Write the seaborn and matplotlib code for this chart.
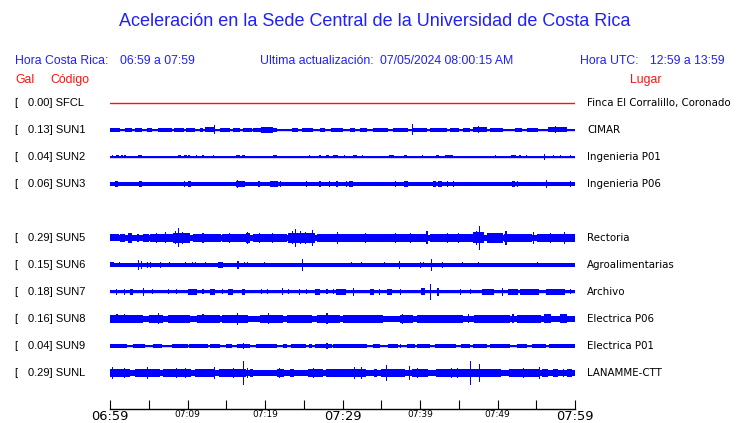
import numpy as np
import pandas as pd
import matplotlib
matplotlib.use("Agg")
import matplotlib.pyplot as plt
import seaborn as sns
from matplotlib.transforms import blended_transform_factory

# ---------------- data ----------------
TITLE = "Aceleración en la Sede Central de la Universidad de Costa Rica"
HORA_CR = "06:59 a 07:59"
ACTUALIZACION = "07/05/2024 08:00:15 AM"
HORA_UTC = "12:59 a 13:59"

CODES = ["SFCL", "SUN1", "SUN2", "SUN3", "SUN5", "SUN6", "SUN7", "SUN8", "SUN9", "SUNL"]
GAL = [0.00, 0.13, 0.04, 0.06, 0.29, 0.15, 0.18, 0.16, 0.04, 0.29]
PLACES = ["Finca El Corralillo, Coronado", "CIMAR", "Ingenieria P01", "Ingenieria P06",
          "Rectoria", "Agroalimentarias", "Archivo", "Electrica P06", "Electrica P01",
          "LANAMME-CTT"]

TIME_TICKS = ["06:59", "07:09", "07:19", "07:29", "07:39", "07:49", "07:59"]
MINUTES_SPAN = 60

# background noise half-amplitude of each trace (relative units)
BASE = [0.0, 0.6, 0.5, 1.8, 2.8, 1.7, 1.5, 3.0, 1.0, 2.5]

# bursts: (start minute, end minute, half-amplitude)
SUN1_BURSTS = [(0.0, 1.3, 2), (1.9, 2.8, 2), (3.2, 4.1, 2), (4.8, 5.4, 2), (6.2, 8.0, 1.8),
               (8.3, 9.5, 2), (9.8, 11.0, 2), (11.6, 12.0, 2), (12.3, 13.5, 2.5), (13.5, 13.5, 4.5),
               (14.2, 15.5, 2), (15.9, 16.8, 2), (17.2, 18.3, 2), (18.5, 19.5, 2), (19.5, 21.0, 3),
               (21.0, 21.5, 2), (23.5, 24.2, 2), (24.8, 26.2, 2), (27.1, 27.8, 2), (28.5, 30.1, 2),
               (31.0, 31.6, 2), (32.2, 33.2, 2), (33.9, 35.9, 2), (36.5, 38.5, 2), (39.0, 39.0, 5.5),
               (39.1, 40.9, 2), (41.3, 43.5, 2), (43.9, 45.0, 2), (45.5, 46.5, 2), (46.8, 48.6, 2.5),
               (47.5, 47.5, 3.5), (49.0, 50.7, 2), (52.3, 53.2, 2), (53.8, 55.2, 2), (56.5, 59.0, 2.5),
               (57.5, 57.5, 3.5)]
SUN2_BURSTS = [(0.2, 0.4, 1.5), (0.8, 1.1, 1.5), (1.4, 1.7, 1.5), (1.8, 2.1, 1.5), (3.6, 4.1, 1.5),
               (8.8, 9.2, 1.5), (9.5, 9.9, 1.5), (10.1, 10.3, 1.5), (11.2, 11.2, 1.5), (12.0, 12.0, 1.5),
               (13.3, 13.3, 1.5), (16.3, 16.8, 1.5), (17.0, 17.4, 1.5), (21.0, 21.6, 1.5), (25.8, 25.8, 1.5),
               (27.1, 27.1, 1.5), (27.9, 28.3, 1.5), (28.8, 29.4, 1.5), (30.3, 30.3, 1.5), (31.4, 31.9, 1.5),
               (32.6, 32.6, 1.5), (36.0, 36.7, 1.5), (37.9, 38.3, 1.5), (40.3, 40.3, 1.5), (42.1, 42.5, 1.5),
               (43.2, 44.2, 1.5), (49.7, 49.7, 1.5), (51.8, 52.4, 1.5), (52.9, 52.9, 1.5), (53.8, 53.8, 1.5),
               (56.1, 56.1, 3), (57.2, 57.2, 1.5), (58.1, 58.1, 1.5), (59.4, 59.4, 1.5)]
SUN3_BURSTS = [(0.6, 1.0, 2.7), (3.7, 4.1, 2.7), (9.5, 9.7, 2.7), (10.0, 10.5, 2.7), (16.3, 17.4, 2.7),
               (16.4, 16.4, 4), (19.1, 19.4, 2.7), (20.7, 21.7, 2.7), (21.9, 22.0, 2.7), (25.4, 25.4, 2.7),
               (27.1, 27.1, 2.7), (28.2, 28.4, 2.7), (29.1, 29.4, 2.7), (30.5, 30.5, 2.7), (30.9, 31.3, 2.7),
               (36.8, 36.8, 2.7), (37.9, 38.4, 2.7), (41.7, 42.1, 2.7), (42.3, 42.9, 2.7), (43.5, 43.5, 2.7),
               (44.3, 44.3, 2.7), (51.9, 52.3, 2.7), (52.6, 52.6, 2.7), (56.3, 56.3, 4), (59.4, 59.4, 2.7)]
SUN5_BURSTS = [(0.0, 1.2, 3.5), (1.3, 1.9, 4.2), (2.3, 2.8, 5), (3.5, 3.8, 4.2), (4.2, 5.0, 3.8),
               (5.2, 8.1, 4.3), (6.0, 6.0, 5), (7.2, 7.2, 5.5), (8.1, 10.3, 4.6), (8.8, 8.8, 9.5),
               (8.5, 8.5, 6.5), (9.3, 9.3, 6), (10.7, 13.3, 4.0), (12.0, 12.0, 5), (13.3, 14.3, 3.6),
               (14.5, 17.5, 4.3), (15.4, 15.4, 5.2), (17.5, 18.0, 5.2), (17.7, 17.7, 6), (18.5, 22.8, 4.0),
               (19.3, 19.3, 5), (21.0, 21.0, 5), (23.0, 26.5, 4.8), (23.9, 23.9, 9), (23.6, 23.6, 6.5),
               (24.6, 24.6, 6.5), (25.2, 25.2, 6), (26.1, 26.1, 8), (26.7, 29.7, 4.3), (29.3, 29.3, 6),
               (29.7, 31.0, 4.3), (31.0, 35.2, 4.0), (33.0, 33.0, 5), (35.2, 40.8, 4.3), (36.8, 36.8, 5.2),
               (38.8, 38.8, 5.2), (40.9, 40.9, 6.5), (41.3, 46.8, 4.3), (43.5, 43.5, 5.2), (45.0, 45.0, 5.2),
               (46.8, 48.2, 5.5), (47.7, 47.7, 12), (47.3, 47.3, 7), (48.6, 50.7, 4.6), (51.1, 51.1, 7),
               (50.8, 54.5, 4.3), (54.6, 54.6, 6), (55.1, 60.0, 4.3), (56.8, 56.8, 5.2), (58.7, 58.7, 6)]
SUN6_BURSTS = [(0.0, 0.5, 2.5), (1.2, 1.2, 2.5), (3.7, 3.7, 5), (4.1, 4.1, 4), (4.8, 4.8, 3),
               (5.2, 5.2, 3), (6.5, 6.5, 3), (7.7, 7.7, 2.5), (9.7, 9.7, 2.5), (10.6, 10.6, 2.5),
               (11.0, 11.0, 2.5), (12.3, 12.3, 2.5), (13.9, 14.6, 3), (16.4, 16.7, 4), (17.3, 17.3, 2.5),
               (17.8, 17.8, 2.5), (19.9, 19.9, 2.5), (24.8, 24.8, 6), (31.2, 31.2, 2.5), (32.4, 32.4, 2.5),
               (35.4, 35.4, 2.5), (37.4, 37.4, 4), (40.1, 40.1, 3), (40.5, 40.5, 2.5), (41.5, 41.5, 6),
               (42.9, 42.9, 3), (45.5, 45.5, 2.5), (47.6, 47.6, 2.5), (51.7, 51.7, 2.2), (55.2, 55.2, 2.5)]
SUN7_BURSTS = [(0.8, 0.8, 2.7), (1.9, 1.9, 2.7), (2.6, 3.0, 2.7), (4.3, 4.3, 4), (5.5, 5.5, 2.5),
               (7.5, 7.5, 2.5), (8.6, 8.6, 2.5), (10.0, 11.2, 3), (12.0, 12.0, 2.5), (12.9, 13.5, 3),
               (14.5, 14.5, 2.5), (15.2, 15.9, 3), (17.0, 17.4, 3), (19.6, 19.6, 2.5), (20.3, 20.3, 2.5),
               (22.2, 22.2, 3.5), (23.0, 23.0, 2.5), (24.5, 24.5, 3), (25.4, 25.4, 2.5), (26.5, 27.1, 3),
               (28.0, 28.0, 2.5), (28.8, 28.8, 2.5), (29.2, 30.5, 3), (31.4, 31.4, 4), (33.5, 34.0, 3),
               (34.8, 34.8, 3), (35.8, 36.4, 3), (37.5, 37.5, 3), (40.1, 40.7, 3.5), (41.4, 41.4, 8),
               (42.2, 42.4, 4), (45.2, 45.2, 3), (46.5, 46.5, 2.5), (48.0, 49.6, 3), (50.7, 50.7, 4),
               (51.4, 52.6, 3), (52.9, 55.4, 3), (56.3, 58.7, 3), (59.4, 59.4, 2.5)]
SUN8_BURSTS = [(0.0, 4.3, 3.8), (0.9, 0.9, 4.5), (1.9, 1.9, 4.5), (5.0, 6.8, 4), (6.2, 6.2, 5.5),
               (7.5, 10.3, 3.8), (11.2, 14.2, 3.8), (12.0, 12.0, 4.5), (14.5, 17.8, 3.8), (16.4, 16.4, 6),
               (19.4, 22.3, 4), (20.4, 20.4, 5.5), (22.8, 26.1, 3.8), (26.7, 29.7, 3.8), (28.0, 28.0, 5.5),
               (30.0, 35.2, 3.8), (37.4, 39.1, 4), (37.8, 37.8, 5), (39.6, 45.5, 3.8), (46.2, 46.2, 4.5),
               (47.0, 51.6, 3.8), (52.0, 52.0, 4.5), (52.5, 55.6, 3.8), (56.0, 56.9, 4.5), (58.1, 59.0, 4.5)]
SUN9_BURSTS = [(0.0, 2.2, 1.7), (3.0, 4.5, 1.7), (5.5, 6.7, 1.7), (8.0, 10.0, 1.7), (10.2, 12.7, 1.7),
               (12.9, 14.2, 1.7), (15.0, 15.8, 1.7), (16.4, 18.0, 1.7), (17.2, 17.2, 2.5), (18.9, 21.5, 1.7),
               (22.3, 22.9, 1.7), (23.4, 25.3, 1.7), (25.7, 26.1, 1.7), (26.5, 28.6, 1.7), (28.0, 28.0, 2.5),
               (28.8, 33.1, 1.7), (33.9, 34.8, 1.7), (35.9, 37.1, 1.7), (37.5, 37.5, 2), (38.3, 39.4, 1.7),
               (39.6, 41.3, 1.7), (41.9, 44.7, 1.7), (45.3, 46.5, 1.7), (46.8, 48.6, 1.7), (49.0, 51.6, 1.7),
               (52.5, 53.8, 1.7), (54.4, 56.2, 1.7), (56.6, 60.0, 1.7)]
SUNL_BURSTS = [(0.0, 2.6, 4), (3.2, 6.5, 4), (6.8, 10.5, 4), (11.0, 13.5, 4), (14.0, 17.5, 4),
               (18.0, 18.5, 4), (21.5, 22.5, 4), (23.2, 23.8, 4), (25.5, 27.5, 4), (28.0, 33.0, 4),
               (34.0, 34.5, 4), (35.0, 38.0, 4), (39.0, 41.0, 4), (42.0, 50.5, 4), (51.5, 55.5, 4),
               (55.7, 56.5, 4), (57.2, 57.8, 4), (59.0, 59.6, 4),
               (0.3, 0.3, 6), (1.9, 1.9, 5), (4.8, 4.8, 6), (6.1, 6.1, 4.5), (8.6, 8.6, 5), (9.7, 9.7, 5),
               (11.4, 11.4, 4.5), (13.5, 13.5, 5.5), (15.9, 15.9, 5), (17.2, 17.2, 12), (17.7, 17.7, 5),
               (21.9, 21.9, 5), (26.2, 26.2, 5), (28.0, 28.0, 4.5), (31.6, 31.6, 6), (32.4, 32.4, 6),
               (35.7, 35.7, 8), (38.6, 38.6, 7), (39.7, 39.7, 5), (44.1, 44.1, 5), (44.8, 44.8, 5),
               (46.5, 46.5, 12), (47.7, 47.7, 9), (53.3, 53.3, 5), (55.4, 55.4, 6), (58.5, 58.5, 4)]

BURSTS = {"SFCL": [], "SUN1": SUN1_BURSTS, "SUN2": SUN2_BURSTS, "SUN3": SUN3_BURSTS,
          "SUN5": SUN5_BURSTS, "SUN6": SUN6_BURSTS, "SUN7": SUN7_BURSTS, "SUN8": SUN8_BURSTS,
          "SUN9": SUN9_BURSTS, "SUNL": SUNL_BURSTS}

# ---------------- layout / style ----------------
W, H = 740, 423
BLUE_TXT = "#1f1fff"
RED_TXT = "#ff1010"
TRACE = "#0000ff"
SLOT_PX = 27.0
FIRST_PX = 103.0
AX_TOP_PX, AX_BOT_PX = 90.0, 409.0
AX_L_PX, AX_R_PX = 110.0, 575.0
SLOTS = [0, 1, 2, 3, 5, 6, 7, 8, 9, 10]   # row 4 (SUN4) is empty
AMP_SCALE = 1.0 / SLOT_PX                # amplitude units -> slot units
MIN_W = 0.14                             # minimal drawn width (minutes)

sns.set_style("white")
plt.rcParams["font.family"] = ["DejaVu Sans"]

fig = plt.figure(figsize=(W / 100, H / 100), dpi=100)
fig.patch.set_facecolor("white")
ax = fig.add_axes([AX_L_PX / W, 1 - AX_BOT_PX / H, (AX_R_PX - AX_L_PX) / W,
                   (AX_BOT_PX - AX_TOP_PX) / H])
ax.set_facecolor("white")

# baseline center lines through seaborn
rows = []
for code, slot in zip(CODES, SLOTS):
    for t in (0, MINUTES_SPAN):
        rows.append({"t": t, "y": slot, "station": code})
df = pd.DataFrame(rows)
palette = {c: (RED_TXT if c == "SFCL" else TRACE) for c in CODES}
sns.lineplot(data=df, x="t", y="y", hue="station", palette=palette, linewidth=1.0,
             legend=False, ax=ax, estimator=None)

# noise bands and bursts
for code, slot, base in zip(CODES, SLOTS, BASE):
    if base > 0:
        a = base * AMP_SCALE
        ax.fill_between([0, MINUTES_SPAN], slot - a, slot + a, color=TRACE, linewidth=0)
    for t0, t1, amp in BURSTS[code]:
        if t1 - t0 < MIN_W:
            c = (t0 + t1) / 2
            t0, t1 = c - MIN_W / 2, c + MIN_W / 2
        a = amp * AMP_SCALE
        ax.fill_between([t0, t1], slot - a, slot + a, color=TRACE, linewidth=0)

ax.set_xlim(0, MINUTES_SPAN)
ax.set_ylim((AX_BOT_PX - FIRST_PX) / SLOT_PX, (AX_TOP_PX - FIRST_PX) / SLOT_PX)
ax.set_xlabel("")
ax.set_ylabel("")
ax.set_yticks([])
for s in ("top", "left", "right"):
    ax.spines[s].set_visible(False)
ax.spines["bottom"].set_color("black")
ax.spines["bottom"].set_linewidth(1.0)

ticks = np.arange(0, MINUTES_SPAN + 1, 5)
labels = []
for i, t in enumerate(ticks):
    labels.append(TIME_TICKS[i // 2] if i % 2 == 0 else "")
ax.set_xticks(ticks)
ax.set_xticklabels(labels)
ax.tick_params(axis="x", bottom=True, direction="in", length=6.5, width=0.8, pad=0.8,
               colors="black")
for i, lab in enumerate(ax.get_xticklabels()):
    txt = lab.get_text()
    if txt in (TIME_TICKS[0], TIME_TICKS[3], TIME_TICKS[6]):
        lab.set_fontsize(9.4)
    else:
        lab.set_fontsize(6.5)

# ---------------- texts ----------------
def fx(px):
    return px / W

def fy(px):
    return 1 - px / H

HDR = "Liberation Sans"
HS = 8.8
fig.text(fx(375), fy(22), TITLE, ha="center", va="center", color=BLUE_TXT,
         fontsize=13.0, family=HDR)
fig.text(fx(15), fy(61), "Hora Costa Rica:", ha="left", va="center", color=BLUE_TXT, fontsize=HS, family=HDR)
fig.text(fx(120), fy(61), HORA_CR, ha="left", va="center", color=BLUE_TXT, fontsize=HS, family=HDR)
fig.text(fx(260), fy(61), "Ultima actualización:", ha="left", va="center", color=BLUE_TXT, fontsize=HS, family=HDR)
fig.text(fx(380), fy(61), ACTUALIZACION, ha="left", va="center", color=BLUE_TXT, fontsize=HS, family=HDR)
fig.text(fx(580), fy(61), "Hora UTC:", ha="left", va="center", color=BLUE_TXT, fontsize=HS, family=HDR)
fig.text(fx(650), fy(61), HORA_UTC, ha="left", va="center", color=BLUE_TXT, fontsize=HS, family=HDR)
fig.text(fx(15), fy(80), "Gal", ha="left", va="center", color=RED_TXT, fontsize=HS, family=HDR)
fig.text(fx(50), fy(80), "Código", ha="left", va="center", color=RED_TXT, fontsize=HS, family=HDR)
fig.text(fx(630), fy(80), "Lugar", ha="left", va="center", color=RED_TXT, fontsize=HS, family=HDR)

tr = blended_transform_factory(fig.transFigure, ax.transData)
for code, slot, g, place in zip(CODES, SLOTS, GAL, PLACES):
    fig.text(fx(14), slot, "[", transform=tr, ha="left", va="center", fontsize=8.0,
             family=HDR, color="black")
    fig.text(fx(28), slot, f"{g:.2f}] {code}", transform=tr, ha="left", va="center",
             fontsize=8.0, family=HDR, color="black")
    fig.text(fx(587), slot, place, transform=tr, ha="left", va="center", fontsize=7.4,
             family="DejaVu Sans", color="black")

fig.savefig("out.png", dpi=100, facecolor="white")
